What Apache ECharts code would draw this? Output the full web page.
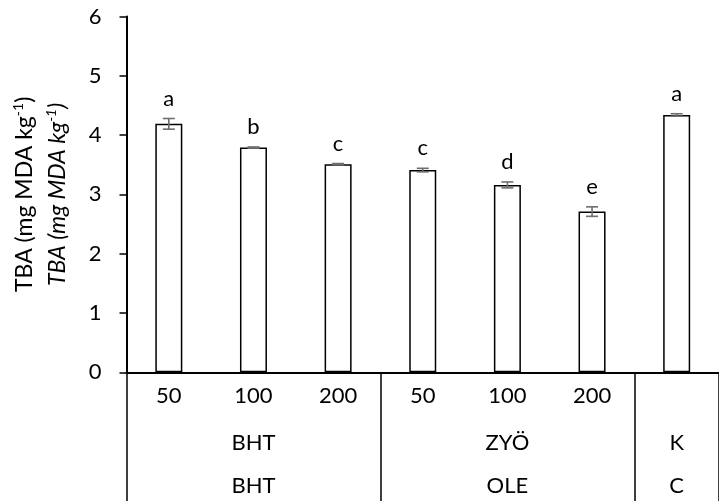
<!DOCTYPE html>
<html>
<head>
<meta charset="utf-8">
<script src="https://cdn.jsdelivr.net/npm/echarts@6/dist/echarts.min.js"></script>
<style>html,body{margin:0;padding:0;background:#fff;}#c{width:719px;height:501px;}</style>
</head>
<body>
<div id="c"></div>
<script>
const doses = ['50','100','200','50','100','200',''];
const groupsTR = ['','BHT','','','ZYÖ','','K'];
const groupsEN = ['','BHT','','','OLE','','C'];
const values = [4.19, 3.79, 3.51, 3.41, 3.16, 2.71, 4.34];
const errors = [0.09, 0.01, 0.01, 0.03, 0.05, 0.08, 0.02];
const letters = ['a','b','c','c','d','e','a'];
const yTicks = [0, 1, 2, 3, 4, 5, 6];

const FONT = 'Lato';
const FS = 22;
const TFS = 23;
const chart = echarts.init(document.getElementById('c'), null, {renderer:'canvas'});

const boundaryIdx = [0, 3, 6];

function titleRich(italic) {
  const st = italic ? 'italic' : 'normal';
  return {
    n: {fontFamily: FONT, fontSize: TFS, color: '#000', fontStyle: st, lineHeight: 26},
    s: {fontFamily: FONT, fontSize: 14, color: '#000', fontStyle: st, lineHeight: 17, verticalAlign: 'top'}
  };
}

chart.setOption({
  animation: false,
  backgroundColor: '#fff',
  grid: {left: 126.5, top: 16.5, width: 604.5, height: 355.8},
  xAxis: [
    {
      type: 'category', data: doses, position: 'bottom',
      axisLine: {show: true, lineStyle: {color: '#000', width: 2}},
      axisTick: {show: true, alignWithLabel: false, length: 130, inside: false,
        interval: function (i) { return boundaryIdx.indexOf(i) >= 0; },
        lineStyle: {color: '#000', width: 1.5}},
      axisLabel: {interval: 0, margin: 13, color: '#000', fontFamily: FONT, fontSize: FS}
    },
    {
      type: 'category', data: groupsTR, position: 'bottom', offset: 47,
      axisLine: {show: false}, axisTick: {show: false},
      axisLabel: {interval: 0, margin: 13, color: '#000', fontFamily: FONT, fontSize: FS}
    },
    {
      type: 'category', data: groupsEN, position: 'bottom', offset: 90,
      axisLine: {show: false}, axisTick: {show: false},
      axisLabel: {interval: 0, margin: 13, color: '#000', fontFamily: FONT, fontSize: FS}
    }
  ],
  yAxis: [
    {
      type: 'value', min: yTicks[0], max: yTicks[yTicks.length - 1], interval: 1,
      axisLine: {show: true, lineStyle: {color: '#000', width: 2}},
      axisTick: {show: true, length: 7, lineStyle: {color: '#000', width: 1.5}},
      axisLabel: {margin: 25, color: '#000', fontFamily: FONT, fontSize: FS},
      splitLine: {show: false},
      name: '{n|TBA (mg MDA kg}{s|-1}{n|)}',
      nameLocation: 'middle', nameRotate: 90, nameGap: 89,
      nameTextStyle: {color: '#000', fontFamily: FONT, fontSize: TFS, lineHeight: 26, rich: titleRich(false)}
    },
    {
      type: 'value', position: 'left', min: yTicks[0], max: yTicks[yTicks.length - 1], interval: 1,
      axisLine: {show: false}, axisTick: {show: false}, axisLabel: {show: false}, splitLine: {show: false},
      name: '{n|TBA (mg MDA kg}{s|-1}{n|)}',
      nameLocation: 'middle', nameRotate: 90, nameGap: 56,
      nameTextStyle: {color: '#000', fontFamily: FONT, fontSize: TFS, fontStyle: 'italic', lineHeight: 26, rich: titleRich(true)}
    }
  ],
  series: [
    {
      type: 'bar', xAxisIndex: 0, yAxisIndex: 0, data: values, barWidth: 27,
      itemStyle: {color: '#fff', borderColor: '#000', borderWidth: 1.5},
      z: 2
    },
    {
      type: 'custom', xAxisIndex: 0, yAxisIndex: 0, z: 5,
      data: values.map(function (v, i) { return [i, v, errors[i]]; }),
      encode: {x: 0, y: 1},
      renderItem: function (params, api) {
        const x = api.value(0), v = api.value(1), e = api.value(2);
        const top = api.coord([x, v + e]);
        const bot = api.coord([x, v - e]);
        const half = 6;
        const ls = {stroke: '#6e6e6e', lineWidth: 1.6};
        return {
          type: 'group',
          children: [
            {type: 'line', shape: {x1: top[0], y1: top[1], x2: bot[0], y2: bot[1]}, style: ls},
            {type: 'line', shape: {x1: top[0] - half, y1: top[1], x2: top[0] + half, y2: top[1]}, style: ls},
            {type: 'line', shape: {x1: bot[0] - half, y1: bot[1], x2: bot[0] + half, y2: bot[1]}, style: ls},
            {type: 'text', style: {text: letters[params.dataIndex], x: top[0], y: top[1] - 20,
              align: 'center', verticalAlign: 'middle', fontSize: FS, fontFamily: FONT, fill: '#000'}}
          ]
        };
      }
    }
  ]
});
</script>
</body>
</html>
